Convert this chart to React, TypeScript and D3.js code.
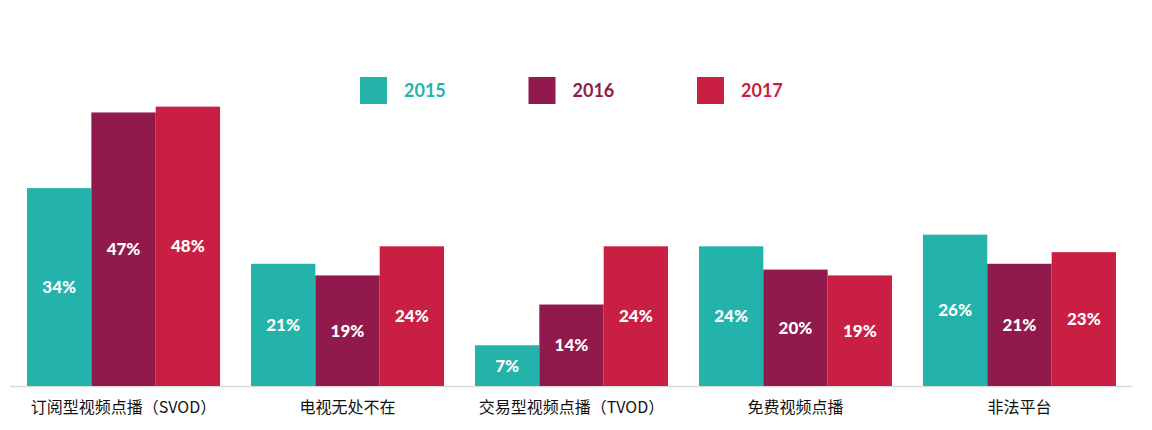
import React, { useEffect, useRef } from 'react';
import * as d3 from 'd3';

const categories = ['订阅型视频点播（SVOD）', '电视无处不在', '交易型视频点播（TVOD）', '免费视频点播', '非法平台'];
const years = ['2015', '2016', '2017'];
const values2015 = [34, 21, 7, 24, 26];
const values2016 = [47, 19, 14, 20, 21];
const values2017 = [48, 24, 24, 19, 23];
const colors = ['#23b3aa', '#8f1a4b', '#c91f42'];

const W = 1152;
const H = 430;

export default function App() {
  const svgRef = useRef<SVGSVGElement | null>(null);

  useEffect(() => {
    document.body.style.margin = '0';
    const svg = d3.select(svgRef.current);
    svg.selectAll('*').remove();

    const series = [values2015, values2016, values2017];
    const baseY = 386;

    const x0 = d3.scaleBand<string>().domain(categories).range([27, 1116]).paddingInner(0.138).paddingOuter(0);
    const x1 = d3.scaleBand<string>().domain(years).range([0, x0.bandwidth()]);
    const y = d3.scaleLinear().domain([0, 50]).range([baseY, 95]);

    // baseline
    svg.append('line')
      .attr('x1', 10).attr('x2', 1132)
      .attr('y1', baseY + 0.5).attr('y2', baseY + 0.5)
      .attr('stroke', '#d9dadc').attr('stroke-width', 1.5);

    const groups = svg.append('g')
      .selectAll('g')
      .data(categories)
      .enter().append('g')
      .attr('transform', d => `translate(${x0(d)},0)`);

    years.forEach((yr, si) => {
      groups.append('rect')
        .attr('x', x1(yr)!)
        .attr('width', x1.bandwidth())
        .attr('y', (_, i) => y(series[si][i]))
        .attr('height', (_, i) => baseY - y(series[si][i]))
        .attr('fill', colors[si]);

      groups.append('text')
        .attr('x', x1(yr)! + x1.bandwidth() / 2)
        .attr('y', (_, i) => (y(series[si][i]) + baseY) / 2)
        .attr('dy', '0.35em')
        .attr('text-anchor', 'middle')
        .attr('fill', '#fff')
        .attr('font-family', 'Lato, "Open Sans", sans-serif')
        .attr('font-weight', 900)
        .attr('font-size', 17)
        .text((_, i) => `${series[si][i]}%`);
    });

    // category labels
    groups.append('text')
      .attr('x', x0.bandwidth() / 2)
      .attr('y', 413)
      .attr('text-anchor', 'middle')
      .attr('fill', '#111')
      .attr('font-family', '"Noto Sans CJK SC", sans-serif')
      .attr('font-size', 16)
      .text(d => d);

    // legend
    const legend = svg.append('g')
      .selectAll('g')
      .data(years)
      .enter().append('g')
      .attr('transform', (_, i) => `translate(${360 + i * 168.5},77)`);

    legend.append('rect')
      .attr('width', 27).attr('height', 27)
      .attr('fill', (_, i) => colors[i]);

    legend.append('text')
      .attr('x', 44).attr('y', 13.5)
      .attr('dy', '0.35em')
      .attr('fill', (_, i) => colors[i])
      .attr('font-family', 'Lato, "Open Sans", sans-serif')
      .attr('font-weight', 700)
      .attr('font-size', 18)
      .text(d => d);
  }, []);

  return (
    <svg ref={svgRef} width={W} height={H} style={{ display: 'block', background: '#fff' }} />
  );
}
